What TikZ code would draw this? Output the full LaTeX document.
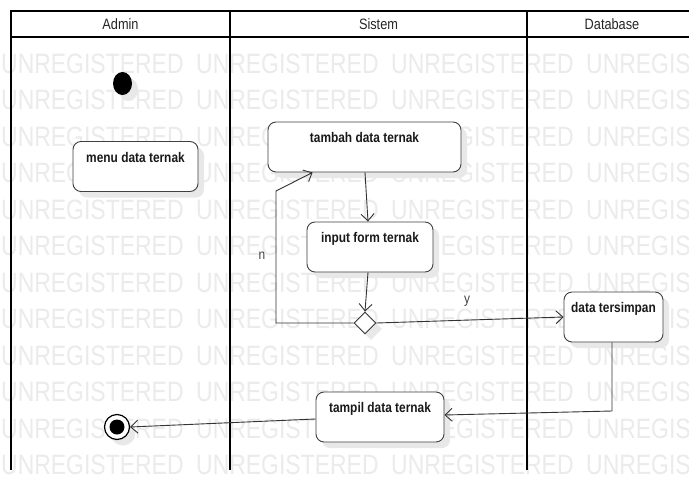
\documentclass[tikz,border=0pt]{standalone}
\usepackage{fontspec}
\setmainfont{Liberation Sans}[FakeStretch=0.85]
\newfontfamily\wmfont{Liberation Sans}[FakeStretch=0.82]
\usetikzlibrary{arrows.meta,shapes.geometric,shadows}
\begin{document}
\begin{tikzpicture}[x=1pt,y=-1pt,
  wm/.style={text=black!8, font=\wmfont\fontsize{28}{28}\selectfont, inner sep=0pt, anchor=base west},
  lane/.style={draw=black, line width=1.4pt},
  head/.style={font=\fontsize{15}{17}\selectfont, text=black!85, inner sep=0pt},
  shad/.style={drop shadow={shadow xshift=6pt, shadow yshift=-6pt, fill=black!9, opacity=1}},
  act/.style={draw=black!75, line width=0.9pt, fill=white, rounded corners=8pt,
    minimum height=50pt, inner sep=0pt, shad,
    font=\fontsize{14}{16}\selectfont\bfseries, text=black!90, text height=11pt, text depth=20pt},
  decision/.style={diamond, draw=black!80, line width=0.9pt, fill=white, inner sep=0pt,
    minimum width=22pt, minimum height=22pt, shad},
  flow/.style={draw=black!80, line width=0.9pt, -{Straight Barb[length=7pt,width=13pt]}},
  guard/.style={font=\fontsize{14}{16}\selectfont, text=black!75, inner sep=0pt}
]
\useasboundingbox (0,0) rectangle (689,480);
\clip (0,0) rectangle (689,480);
\fill[white] (0,0) rectangle (689,480);

% watermark
\foreach \r in {1,...,12}{
  \foreach \c in {0,...,2}{
    \node[wm] (wm-\r-\c) at ({1+195*\c},{36.5+36.5*\r}) {UNREGISTERED};
  }
  \node[wm] (wm-\r-3) at (586,{36.5+36.5*\r}) {UNREGIS};
}

% swimlane frame
\fill[white] (11,11) rectangle (689,37);
\draw[lane] (689,11) -- (11,11) -- (11,470);
\draw[lane] (11,37) -- (689,37);
\draw[lane] (230,11) -- (230,470);
\draw[lane] (527,11) -- (527,470);
\node[head] (hAdmin) at (120.5,24.5) {Admin};
\node[head] (hSistem) at (378.5,24.5) {Sistem};
\node[head] (hDb) at (612,24.5) {Database};

% nodes
\node[ellipse, fill=black, minimum width=19pt, minimum height=23pt, inner sep=0pt, shad] (init) at (122.5,83.5) {};
\node[act, minimum width=125pt] (menu) at (135.5,166.5) {menu data ternak};
\node[act, minimum width=193pt] (tambah) at (364.5,147) {tambah data ternak};
\node[act, minimum width=126pt] (input) at (370,247) {input form ternak};
\node[decision] (dec) at (365,323) {};
\node[act, minimum width=99pt] (simpan) at (613.5,317) {data tersimpan};
\node[act, minimum width=128pt] (tampil) at (380,417) {tampil data ternak};
\node[circle, draw=black, line width=1.2pt, fill=white, minimum size=25pt, inner sep=0pt, shad] (final) at (117,427) {};
\node[circle, fill=black, minimum size=15pt, inner sep=0pt] (finalin) at (117,427) {};

% connectors
\coordinate (lp1) at (276,323);
\coordinate (lp2) at (276,191);
\coordinate (dn) at (612,411);
\draw[flow] ([xshift=0.5pt]tambah.south) -- ([xshift=-2pt]input.north);
\draw[flow] ([xshift=-2pt]input.south) -- (dec.north);
\draw[flow] (dec.west) -- (lp1) -- (lp2) -- ([xshift=45pt]tambah.south west);
\draw[flow] (dec.east) -- (simpan.west);
\draw[flow] ([xshift=-1.5pt]simpan.south) -- (dn) -- ([yshift=2pt]tampil.east);
\draw[flow] ([yshift=-2pt]tampil.west) -- (final.east);

\node[guard] (gn) at (262,256) {n};
\node[guard] (gy) at (467,301) {y};
\end{tikzpicture}
\end{document}
